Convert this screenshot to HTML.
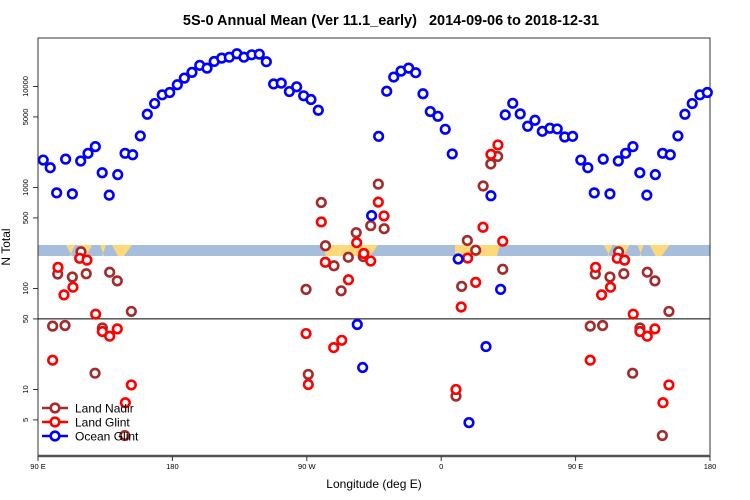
<!DOCTYPE html>
<html><head><meta charset="utf-8"><style>
body{margin:0;background:#fff;}
svg{display:block;font-family:"Liberation Sans",sans-serif;}
</style></head><body>
<svg id="chart" width="750" height="500">
<text x="391" y="25" text-anchor="middle" font-size="14.5" font-weight="bold" style="white-space:pre">5S-0 Annual Mean (Ver 11.1_early)   2014-09-06 to 2018-12-31</text>
<g id="band"></g>
<g id="axes"></g>
<g id="marks"></g>
<text x="374" y="488" text-anchor="middle" font-size="12">Longitude (deg E)</text>
<text transform="translate(10,247) rotate(-90)" text-anchor="middle" font-size="12">N Total</text>
<g id="legend"></g>
</svg>
<script>
const xTickVals = [90, 180, 270, 360, 450, 540];
const xTickLabels = ["90 E", "180", "90 W", "0", "90 E", "180"];
const yTickVals = [5, 10, 50, 100, 500, 1000, 5000, 10000];
const yTickLabels = ["5", "10", "50", "100", "500", "1000", "5000", "10000"];
const seriesNames = ["Land Nadir", "Land Glint", "Ocean Glint"];
const oceanLon = [93.5,98.2,102.5,108.5,113,118.6,123.5,128.4,133,137.7,143.4,148.3,153.4,158.5,163.2,168.1,173.2,178.2,183.3,188,193.1,198.3,203.2,208,213,218.1,223.2,227.9,233.1,238.2,242.9,247.8,252.9,258.3,263.2,267.9,272.8,277.7,318.1,323.5,328.2,333.1,338.2,342.9,347.8,352.7,357.8,362.7,367.4,393.3,402.9,407.9,412.9,417.9,422.8,427.7,432.8,437.7,442.7,448,303.8,307.4,313.4,371.4,378.6,390,399.8];
const oceanVal = [1870,1570,885,1910,865,1830,2180,2540,1400,840,1340,2180,2110,3240,5310,6780,8270,8720,10400,12100,13800,16200,15200,17700,19100,19500,21100,19500,20600,20900,17600,10600,10800,8910,9930,8090,7430,5820,3210,8980,12400,14200,15200,13700,8470,5650,5070,3770,2150,828,5240,6820,5360,4040,4630,3600,3860,3800,3160,3210,44,16.5,527,196,4.7,26.6,98];
const nadirLon = [99.8,103.2,108.1,113,118.8,122.3,128.2,133.1,138,143.1,148.1,152.5,269.5,271,279.7,282.5,288.2,293,297.8,303.1,307.8,312.8,317.9,321.8,369.9,373.7,377.5,383.1,388.1,393.2,397.8,401.2];
const nadirVal = [42.4,139,43,130,231,140,14.5,40.7,145,119,3.5,59.3,98,14.1,710,265,168,94.9,204,357,207,419,1080,391,8.6,105,299,239,1035,1710,2030,155];
const glintLon = [99.8,103.4,107.4,113.4,117.9,122.8,128.6,133.1,138,143.1,148.5,152.5,269.5,271,279.7,282.4,288,293.4,297.9,303.4,308.2,312.8,317.9,321.7,369.9,373.4,377.7,383.1,388,393.3,398,401.2];
const glintVal = [19.5,162,86.5,103,199,191,55.7,37.5,33.7,39.8,7.4,11.1,35.8,11.2,456,182,26,30.7,122,284,222,187,716,523,10,65.6,200,115,404,2130,2640,294];

const NS="http://www.w3.org/2000/svg";
const L=38,R=710,T=38,B=456;
function sx(lon){return L+(lon-90)/450*(R-L);}
function sy(v){return 86.5+(4-Math.log10(v))*101;}
function mk(tag,attrs,parent){const e=document.createElementNS(NS,tag);for(const k in attrs)e.setAttribute(k,attrs[k]);parent.appendChild(e);return e;}

// band
const band=document.getElementById('band');
const bandRect=mk('rect',{x:L,y:245,width:R-L,height:11,fill:'#a6bddb'},band);


const lands=[[322,326,378,370],[455,455,500,497],[66,72,75,70],[78,84,92,86],[100,104,106,102],[112,118,132,124]];
lands.forEach(l=>{
  [0,1].forEach(rep=>{
    const off=rep*(sx(450)-sx(90));
    if(rep===1&&l[0]>200)return;
    const p=mk('polygon',{points:`${l[0]+off},245 ${l[2]+off},245 ${l[3]+off},256 ${l[1]+off},256`,fill:'#fdd97a'},band);
    
    
  });
});

// axes
const ax=document.getElementById('axes');
mk('rect',{x:L,y:T,width:R-L,height:B-T,fill:'none',stroke:'#333','stroke-width':1},ax);
mk('line',{x1:L,x2:R,y1:B,y2:B,stroke:'#555','stroke-width':2.5},ax);
const ref=mk('line',{x1:L,x2:R,y1:sy(50),y2:sy(50),stroke:'#000','stroke-width':1},ax);


yTickVals.forEach((v,i)=>{
  const y=sy(v);
  mk('line',{x1:L-5,x2:L,y1:y,y2:y,stroke:'#333'},ax);
  const t=mk('text',{transform:`translate(28,${y}) rotate(-90)`,'text-anchor':'middle','font-size':7.5},ax);
  t.textContent=yTickLabels[i];
  
  
});
xTickVals.forEach((v,i)=>{
  const x=sx(v);
  mk('line',{x1:x,x2:x,y1:B,y2:B+5,stroke:'#333'},ax);
  const t=mk('text',{x:x,y:469,'text-anchor':'middle','font-size':7.5},ax);
  t.textContent=xTickLabels[i];
  
  
});

// marks
const g=document.getElementById('marks');
function drawSeries(lons,vals,color,name){
  lons.forEach((lon,i)=>{
    const reps=[lon];
    if(lon+360<=540)reps.push(lon+360);
    reps.forEach(l=>{
      const c=mk('circle',{cx:sx(l),cy:sy(vals[i]),r:4.3,fill:'#fff',stroke:color,'stroke-width':2.6},g);
      
      
    });
  });
}
drawSeries(nadirLon,nadirVal,'#a52a2a','land-nadir');
drawSeries(glintLon,glintVal,'#ff0000','land-glint');
drawSeries(oceanLon,oceanVal,'#0000ff','ocean-glint');

// legend
const lg=document.getElementById('legend');
const cols=['#a52a2a','#ff0000','#0000ff'];
seriesNames.forEach((n,i)=>{
  const y=408+i*14;
  const e=mk('g',{},lg);
  
  
  mk('line',{x1:42,x2:68,y1:y,y2:y,stroke:cols[i],'stroke-width':2.6},e);
  mk('circle',{cx:55,cy:y,r:4.3,fill:'#fff',stroke:cols[i],'stroke-width':2.6},e);
  const t=mk('text',{x:75,y:y+4.5,'font-size':12},e);
  t.textContent=n;
});
</script>
</body></html>
